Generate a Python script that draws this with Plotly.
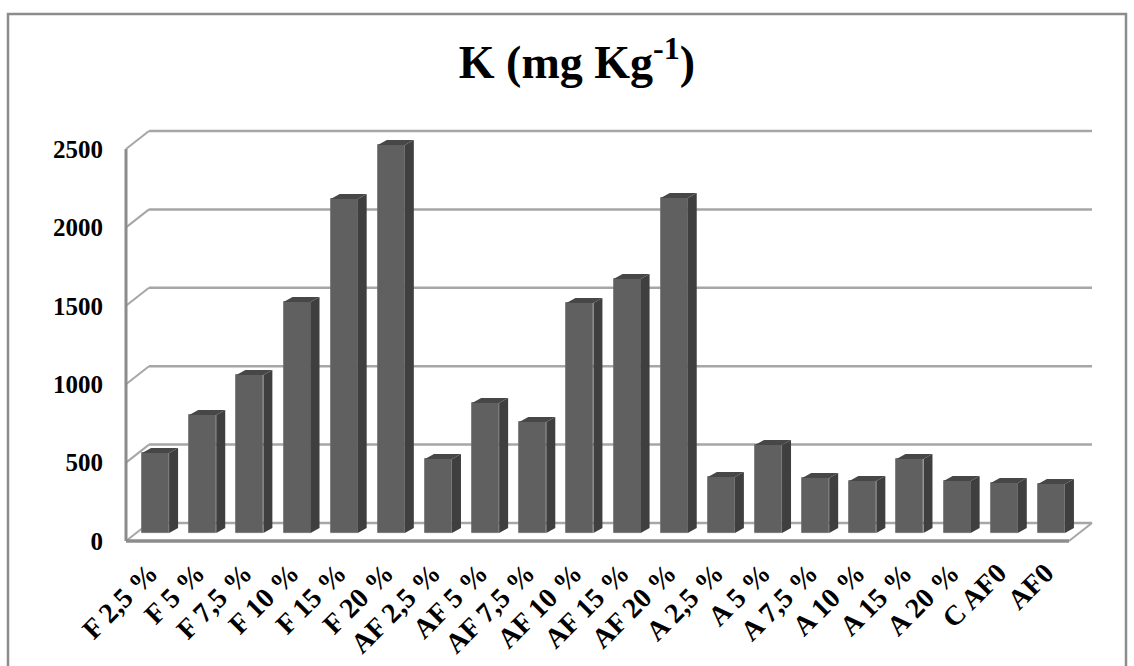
import plotly.graph_objects as go

# ---------------- data ----------------
categories = ["F 2,5 %", "F 5 %", "F 7,5 %", "F 10 %", "F 15 %", "F 20 %",
              "AF 2,5 %", "AF 5 %", "AF 7,5 %", "AF 10 %", "AF 15 %", "AF 20 %",
              "A 2,5 %", "A 5 %", "A 7,5 %", "A 10 %", "A 15 %", "A 20 %",
              "C AF0", "AF0"]
values = [510, 752, 1008, 1473, 2130, 2474,
          472, 829, 708, 1467, 1620, 2136,
          357, 561, 350, 332, 472, 332, 319, 312]
y_ticks = [0, 500, 1000, 1500, 2000, 2500]
title_text = "<b>K (mg Kg<sup>-1</sup>)</b>"

# ---------------- geometry (pixels) ----------------
W, H = 1134, 666
PX_L, PX_R, PX_T, PX_B = 120, 1110, 110, 550
FX0 = 126.0          # front plane left edge (x = -0.5)
CAT = 47.15          # px per category
FY0 = 541.0          # front floor (value 0)
K = 0.1568           # px per value unit

n = len(categories)
x_lo = -0.5 - (FX0 - PX_L) / CAT
x_hi = -0.5 + (PX_R - FX0) / CAT
y_lo = -(PX_B - FY0) / K
y_hi = (FY0 - PX_T) / K

DXW = 23 / CAT       # wall depth offset (x units)
DYW = 18 / K         # wall depth offset (value units)
B0 = 8 / K           # bar base offset (depth)
BSHIFT = 6 / CAT     # bar horizontal offset
BW = 27 / CAT        # bar front width
SDX = 9 / CAT        # bar side depth x
SDY = 5 / K          # bar side depth y

FONT = "Liberation Serif, Times New Roman, serif"
GRID = "#a6a6a6"
AXC = "#8c8c8c"

fig = go.Figure()

# ---------- walls / gridlines as shapes below ----------
shapes = []
xl, xr = -0.5, n - 0.5
for v in y_ticks:
    shapes.append(dict(type="line", xref="x", yref="y", layer="below",
                       x0=xl + DXW, x1=xr + DXW, y0=v + DYW, y1=v + DYW,
                       line=dict(color=GRID, width=2.5)))
    shapes.append(dict(type="line", xref="x", yref="y", layer="below",
                       x0=xl, x1=xl + DXW, y0=v, y1=v + DYW,
                       line=dict(color=GRID, width=2)))
# floor right edge
shapes.append(dict(type="line", xref="x", yref="y", layer="below",
                   x0=xr, x1=xr + DXW, y0=0, y1=DYW,
                   line=dict(color=GRID, width=2)))
# front floor edge
shapes.append(dict(type="line", xref="x", yref="y", layer="below",
                   x0=xl, x1=xr, y0=0, y1=0,
                   line=dict(color=AXC, width=3.5)))
# left axis line
shapes.append(dict(type="line", xref="x", yref="y", layer="below",
                   x0=xl, x1=xl, y0=0, y1=y_ticks[-1],
                   line=dict(color=AXC, width=3)))

# chart frame
def px2paper_x(px):
    return (px - PX_L) / (PX_R - PX_L)

def px2paper_y(py):
    return (PX_B - py) / (PX_B - PX_T)

shapes.append(dict(type="rect", xref="paper", yref="paper", layer="below",
                   x0=px2paper_x(8), x1=px2paper_x(1126),
                   y0=px2paper_y(700), y1=px2paper_y(14),
                   line=dict(color=AXC, width=2.5), fillcolor="rgba(0,0,0,0)"))

# ---------- bars (front faces) ----------
xs = [i + BSHIFT for i in range(n)]
fig.add_trace(go.Bar(x=xs, y=values, base=B0, width=BW,
                     marker=dict(color="#606060", line=dict(color="#6c6c6c", width=0.8)),
                     hoverinfo="skip", showlegend=False))

# ---------- side and top faces ----------
sx, sy, tx, ty = [], [], [], []
for i, v in enumerate(values):
    a = xs[i] - BW / 2
    b = xs[i] + BW / 2
    top = B0 + v
    sx += [b, b + SDX, b + SDX, b, b, None]
    sy += [B0, B0 + SDY, top + SDY, top, B0, None]
    tx += [a, b, b + SDX, a + SDX, a, None]
    ty += [top, top, top + SDY, top + SDY, top, None]

fig.add_trace(go.Scatter(x=sx, y=sy, mode="lines", fill="toself",
                         fillcolor="#3f3f3f", line=dict(width=0, color="#3f3f3f"),
                         hoverinfo="skip", showlegend=False))
fig.add_trace(go.Scatter(x=tx, y=ty, mode="lines", fill="toself",
                         fillcolor="#474747", line=dict(width=0, color="#474747"),
                         hoverinfo="skip", showlegend=False))

fig.update_layout(
    width=W, height=H,
    margin=dict(l=PX_L, r=W - PX_R, t=PX_T, b=H - PX_B, pad=0, autoexpand=False),
    paper_bgcolor="white", plot_bgcolor="white",
    shapes=shapes,
    bargap=0,
    title=dict(text=title_text, font=dict(family=FONT, size=46, color="black"),
               x=577 / W, xanchor="center", xref="container",
               y=1 - 62 / H, yanchor="middle", yref="container"),
    xaxis=dict(range=[x_lo, x_hi], tickvals=list(range(n)), ticktext=categories,
               tickangle=-45, showgrid=False, zeroline=False, showline=False,
               ticks="", ticklabelstandoff=0, automargin=False,
               tickfont=dict(family=FONT, size=28, color="black", weight="bold")),
    yaxis=dict(range=[y_lo, y_hi], tickvals=y_ticks, showgrid=False,
               zeroline=False, showline=False, ticks="", ticklabelstandoff=16,
               automargin=False,
               tickfont=dict(family=FONT, size=25, color="black", weight="bold")),
)

fig.write_html("out.html")
